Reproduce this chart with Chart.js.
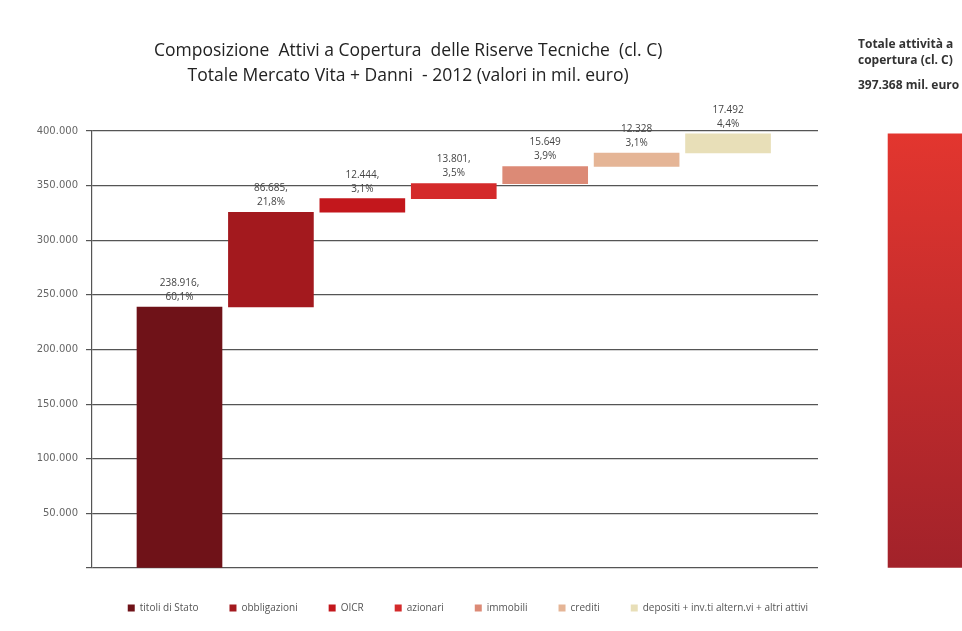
<!DOCTYPE html>
<html>
<head>
<meta charset="utf-8">
<script src="https://cdn.jsdelivr.net/npm/chart.js@4.4.1/dist/chart.umd.min.js"></script>
<style>
  html, body { margin: 0; padding: 0; background: #ffffff; overflow: hidden; }
  #wrap { position: relative; width: 962px; height: 631px; overflow: hidden; }
  #c { position: absolute; left: 0; top: 0; }
  .side { position: absolute; left: 858px; font-family: "Open Sans", sans-serif; font-weight: 700; font-size: 12px; color: #333; white-space: nowrap; }
</style>
</head>
<body>
<div id="wrap">
  <canvas id="c" width="962" height="631"></canvas>
  <div class="side" style="top:35px;">Totale attività a</div>
  <div class="side" style="top:51px;">copertura (cl. C)</div>
  <div class="side" style="top:76px;">397.368 mil. euro</div>
</div>
<script>
// ---- data ----
const categories = ['titoli di Stato', 'obbligazioni', 'OICR', 'azionari', 'immobili', 'crediti', 'depositi + inv.ti altern.vi + altri attivi'];
const values = [238916, 86685, 12444, 13801, 15649, 12328, 17492];
const valueLabels = ['238.916,', '86.685,', '12.444,', '13.801,', '15.649', '12.328', '17.492'];
const shareLabels = ['60,1%', '21,8%', '3,1%', '3,5%', '3,9%', '3,1%', '4,4%'];
const totalValue = 397368;
const yTickValues = [0, 50000, 100000, 150000, 200000, 250000, 300000, 350000, 400000];
const yTickLabels = ['', '50.000', '100.000', '150.000', '200.000', '250.000', '300.000', '350.000', '400.000'];
const titleLines = ['Composizione  Attivi a Copertura  delle Riserve Tecniche  (cl. C)', 'Totale Mercato Vita + Danni  - 2012 (valori in mil. euro)'];

const colors = ['#6f1218', '#a3191e', '#c3171c', '#d42a2b', '#dc8a76', '#e5b596', '#e8dfb8'];

// ---- build waterfall datasets ----
const datasets = [];
let run = 0;
categories.forEach((cat, i) => {
  const lo = run, hi = run + values[i];
  run = hi;
  datasets.push({
    label: cat,
    data: [{ x: i, y: [lo, hi] }],
    backgroundColor: colors[i],
    borderWidth: 0,
    barThickness: 85,
    grouped: false
  });
});
datasets.push({
  label: 'Totale',
  data: [{ x: 8.215, y: [0, totalValue] }],
  backgroundColor: (ctx) => {
    const ch = ctx.chart;
    const area = ch.chartArea;
    if (!area) return '#c8282a';
    const g = ch.ctx.createLinearGradient(0, area.top, 0, area.bottom);
    g.addColorStop(0, '#e3362f');
    g.addColorStop(1, '#a2222a');
    return g;
  },
  borderWidth: 0,
  barThickness: 85,
  grouped: false,
  clip: false
});

const labelPlugin = {
  id: 'barLabels',
  afterDatasetsDraw(chart) {
    const c = chart.ctx;
    c.save();
    c.font = '10px "Open Sans", sans-serif';
    c.fillStyle = '#444';
    c.textAlign = 'center';
    c.textBaseline = 'middle';
    for (let i = 0; i < categories.length; i++) {
      const bar = chart.getDatasetMeta(i).data[0];
      if (!bar) continue;
      c.fillText(valueLabels[i], bar.x, bar.y - 24);
      c.fillText(shareLabels[i], bar.x, bar.y - 10);
    }
    c.restore();
  }
};

new Chart(document.getElementById('c'), {
  type: 'bar',
  data: { datasets },
  plugins: [labelPlugin],
  options: {
    responsive: false,
    animation: false,
    layout: { padding: { left: 0, right: 123, top: 0, bottom: 8 } },
    plugins: {
      tooltip: { enabled: false },
      title: {
        display: true,
        text: titleLines.map(t => t + '     '),
        color: '#222',
        font: { family: '"Open Sans", sans-serif', size: 17.5, weight: 'normal', lineHeight: 1.4 },
        padding: { top: 39, bottom: 43 }
      },
      legend: {
        position: 'bottom',
        align: 'end',
        labels: {
          boxWidth: 7,
          boxHeight: 7,
          padding: 31,
          color: '#555',
          font: { family: '"Open Sans", sans-serif', size: 10 },
          filter: (item) => item.datasetIndex < categories.length
        }
      }
    },
    scales: {
      x: {
        type: 'linear',
        offset: false,
        min: -0.957,
        max: 6.984,
        display: true,
        ticks: { display: false },
        grid: { display: false },
        border: { display: false },
        afterFit: (s) => { s.height = 4; }
      },
      y: {
        min: 0,
        max: 400000,
        afterFit: (s) => { s.width = 92; },
        afterBuildTicks: (s) => { s.ticks = yTickValues.map(v => ({ value: v })); },
        ticks: {
          padding: 8,
          color: '#666',
          font: { family: '"DejaVu Sans", sans-serif', size: 10 },
          callback: (v) => yTickLabels[yTickValues.indexOf(v)]
        },
        grid: { color: '#555', lineWidth: 1.2, tickLength: 6 },
        border: { display: true, color: '#555', width: 1.2 }
      },
      ySpacer: {
        position: 'right',
        display: true,
        min: 0,
        max: 1,
        ticks: { display: false },
        grid: { display: false, drawOnChartArea: false },
        border: { display: false },
        afterFit: (s) => { s.width = 21; }
      }
    }
  }
});
</script>
</body>
</html>
